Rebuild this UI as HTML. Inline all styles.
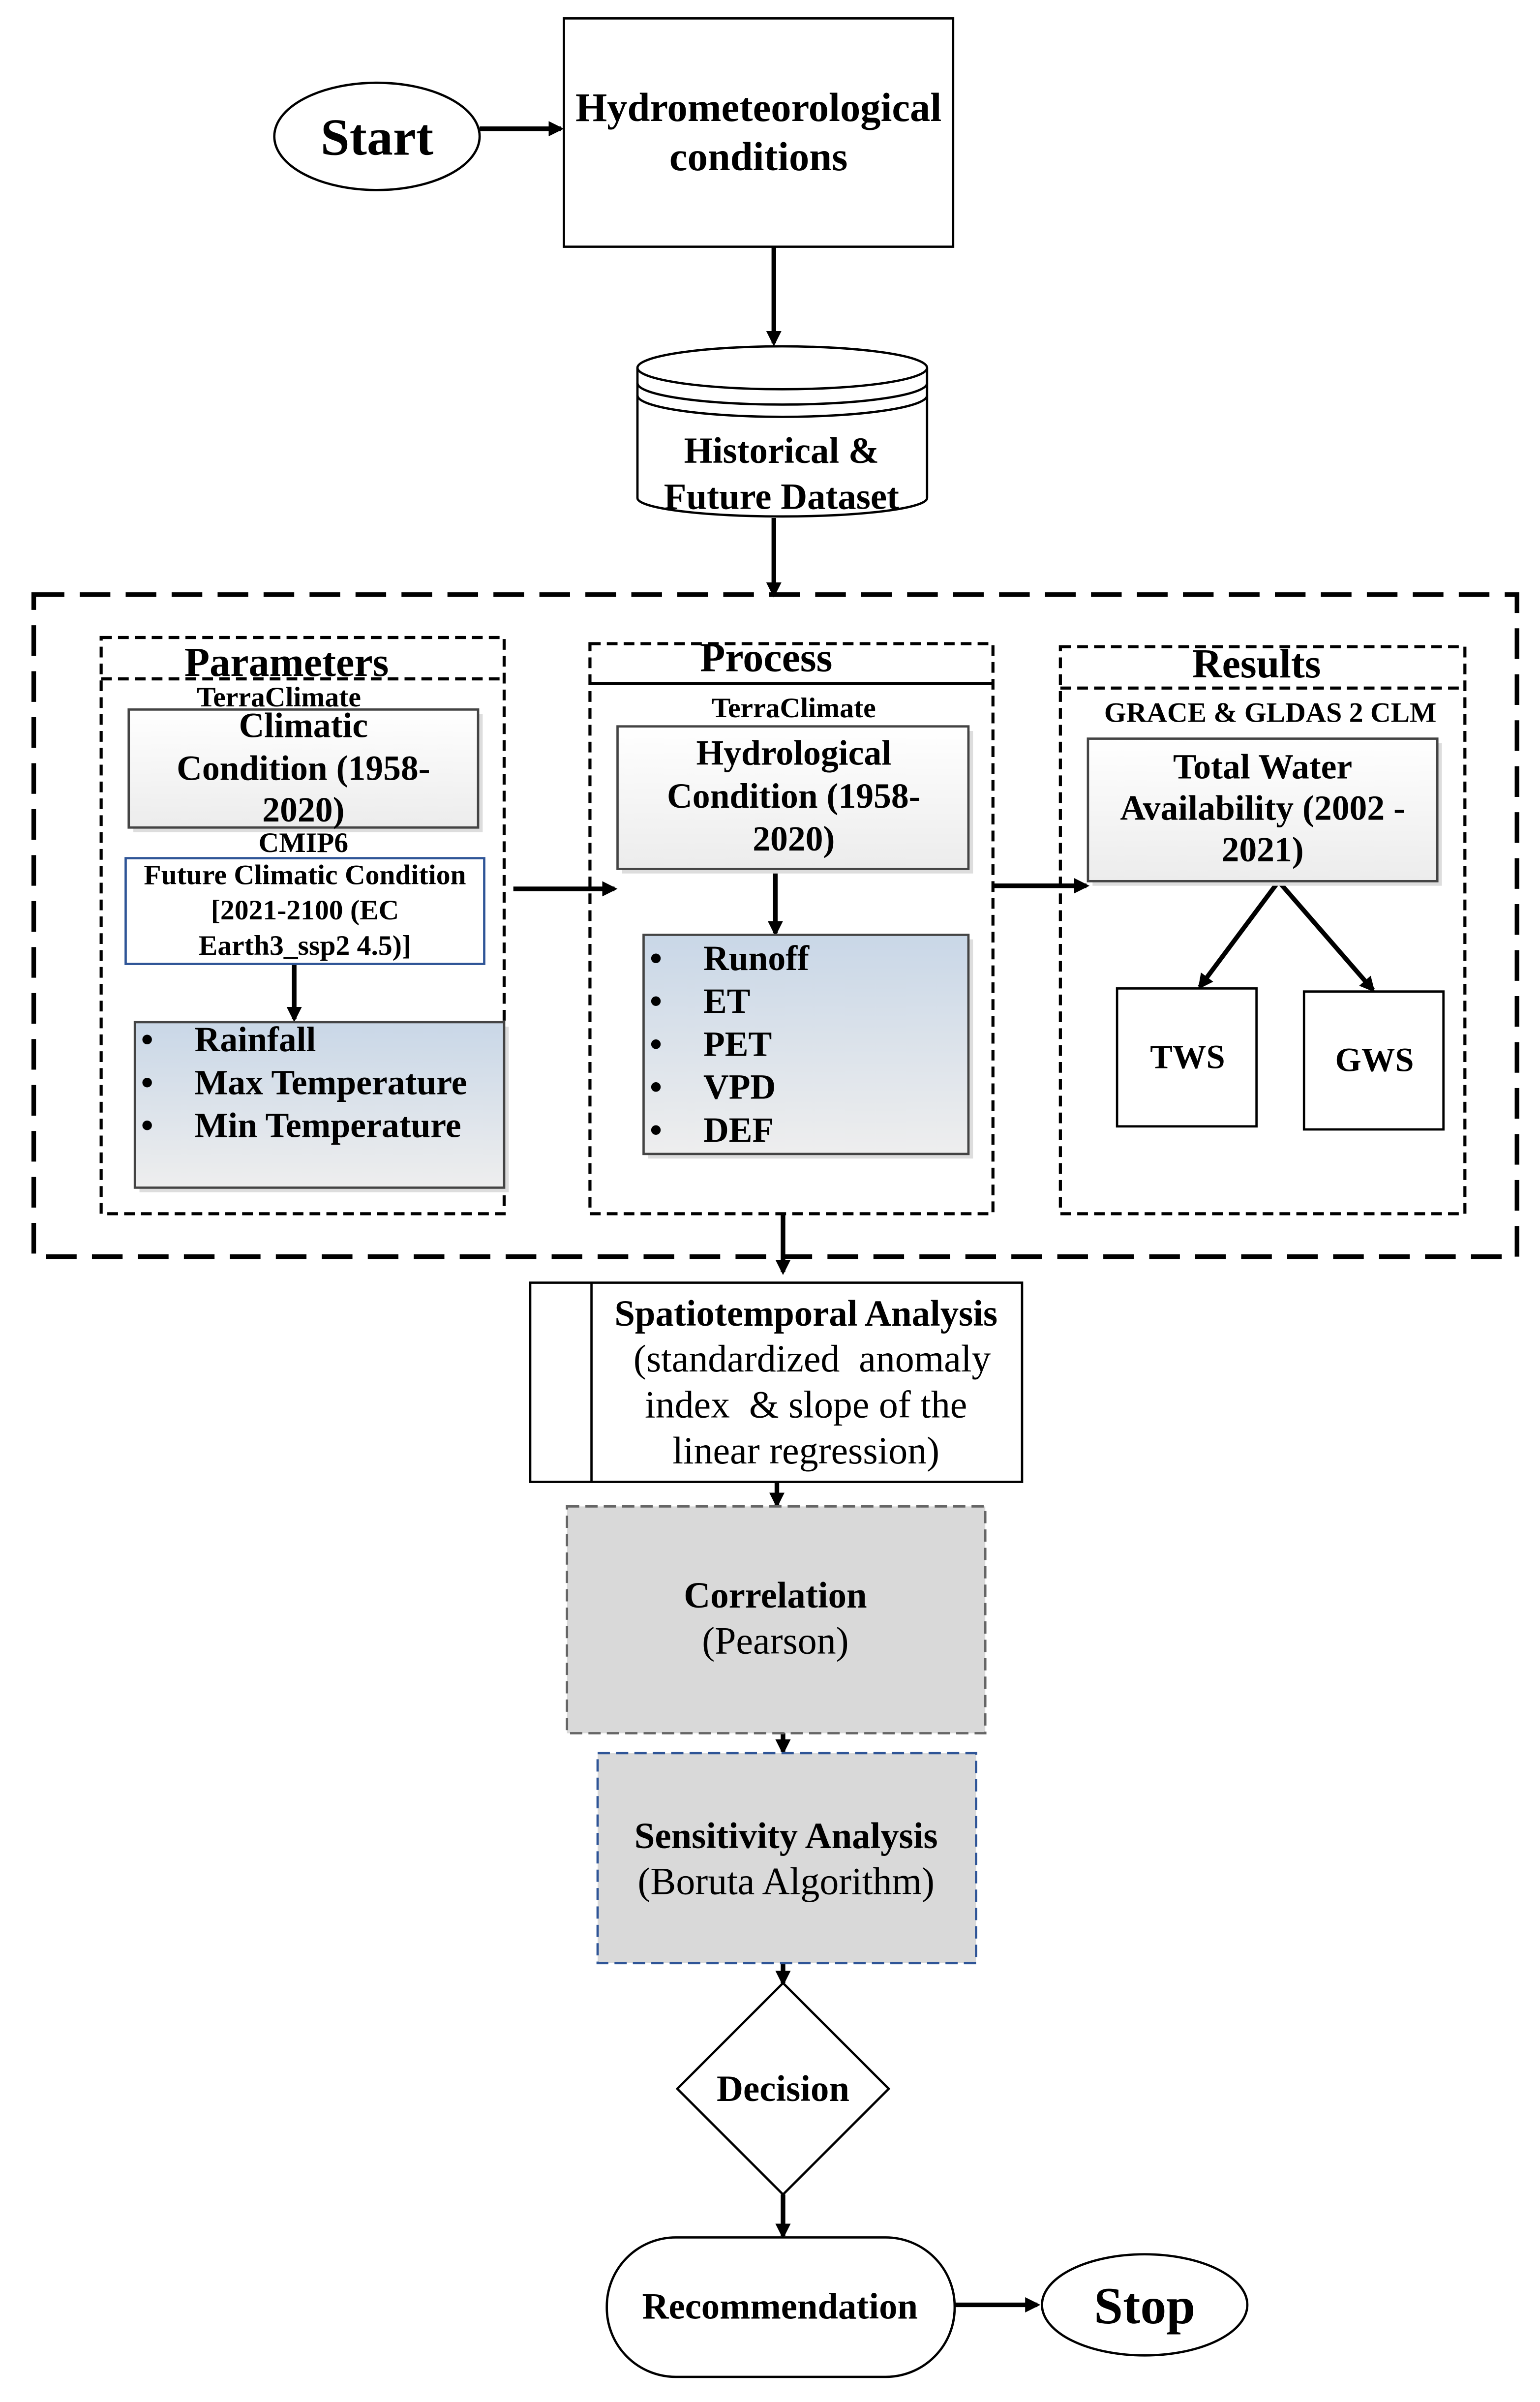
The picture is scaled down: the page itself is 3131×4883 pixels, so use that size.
<!DOCTYPE html>
<html><head><meta charset="utf-8"><style>html,body{margin:0;padding:0;background:#fff}svg{display:block}text{font-family:"Liberation Serif",serif;fill:#000}</style></head>
<body>
<svg width="3131" height="4883" viewBox="0 0 1005 1567.4" xmlns="http://www.w3.org/2000/svg">
<defs>
<marker id="a" markerWidth="10" markerHeight="10" refX="8" refY="5" orient="auto" markerUnits="userSpaceOnUse"><path d="M0,0 L10,5 L0,10 z" fill="#000"/></marker>
<linearGradient id="g1" x1="0" y1="0" x2="0" y2="1"><stop offset="0" stop-color="#ffffff"/><stop offset="1" stop-color="#ececec"/></linearGradient>
<linearGradient id="g2" x1="0" y1="0" x2="0" y2="1"><stop offset="0" stop-color="#c9d7e7"/><stop offset="1" stop-color="#eeeeee"/></linearGradient>
</defs>
<g stroke="#000" stroke-width="3" fill="none">
<line x1="313" y1="84" x2="366" y2="84" marker-end="url(#a)"/>
<line x1="505" y1="161" x2="505" y2="224" marker-end="url(#a)"/>
<line x1="505" y1="338" x2="505" y2="388" marker-end="url(#a)"/>
<line x1="192" y1="629" x2="192" y2="665" marker-end="url(#a)"/>
<line x1="335" y1="580" x2="401" y2="580" marker-end="url(#a)"/>
<line x1="506" y1="567" x2="506" y2="609" marker-end="url(#a)"/>
<line x1="648" y1="578" x2="709" y2="578" marker-end="url(#a)"/>
<line x1="833" y1="577" x2="783" y2="644" marker-end="url(#a)"/>
<line x1="836" y1="577" x2="896" y2="646" marker-end="url(#a)"/>
<line x1="511" y1="792" x2="511" y2="830" marker-end="url(#a)"/>
<line x1="507" y1="967" x2="507" y2="982" marker-end="url(#a)"/>
<line x1="511" y1="1131" x2="511" y2="1143" marker-end="url(#a)"/>
<line x1="511" y1="1281" x2="511" y2="1294" marker-end="url(#a)"/>
<line x1="511" y1="1432" x2="511" y2="1459" marker-end="url(#a)"/>
<line x1="623" y1="1504" x2="677" y2="1504" marker-end="url(#a)"/>
</g>
<ellipse cx="246" cy="89" rx="67" ry="35" fill="#fff" stroke="#000" stroke-width="1.5"/>
<text x="246" y="101" font-size="34" font-weight="bold" text-anchor="middle">Start</text>
<rect x="368" y="12" width="254" height="149" fill="#fff" stroke="#000" stroke-width="1.5"/>
<text x="495" y="79" font-size="26.5" font-weight="bold" text-anchor="middle">Hydrometeorological</text>
<text x="495" y="111" font-size="26.5" font-weight="bold" text-anchor="middle">conditions</text>
<path d="M416,240 A94.5,14 0 0 1 605,240 L605,325 A94.5,12 0 0 1 416,325 Z" fill="#fff" stroke="#000" stroke-width="1.5"/>
<path d="M416,240 A94.5,14 0 0 0 605,240 M416,250 A94.5,14 0 0 0 605,250 M416,258 A94.5,14 0 0 0 605,258" fill="none" stroke="#000" stroke-width="1.5"/>
<text x="510" y="302" font-size="24" font-weight="bold" text-anchor="middle">Historical &amp;</text>
<text x="510" y="332" font-size="24" font-weight="bold" text-anchor="middle">Future Dataset</text>
<rect x="22" y="388" width="968" height="432" fill="none" stroke="#000" stroke-width="3" stroke-dasharray="20 10"/>
<!-- Parameters -->
<rect x="66" y="416" width="263" height="376" fill="none" stroke="#000" stroke-width="2" stroke-dasharray="7 4"/>
<line x1="66" y1="443" x2="329" y2="443" stroke="#000" stroke-width="2" stroke-dasharray="7 4"/>
<text x="187" y="441" font-size="27" font-weight="bold" text-anchor="middle">Parameters</text>
<text x="182" y="461" font-size="18.5" font-weight="bold" text-anchor="middle">TerraClimate</text>
<rect x="87" y="466" width="228" height="77" fill="#ddd"/>
<rect x="84" y="463" width="228" height="77" fill="url(#g1)" stroke="#444" stroke-width="1.5"/>
<text x="198" y="481" font-size="23" font-weight="bold" text-anchor="middle">Climatic</text>
<text x="198" y="509" font-size="23" font-weight="bold" text-anchor="middle">Condition (1958-</text>
<text x="198" y="536" font-size="23" font-weight="bold" text-anchor="middle">2020)</text>
<text x="198" y="556" font-size="18.5" font-weight="bold" text-anchor="middle">CMIP6</text>
<rect x="82" y="560" width="234" height="69" fill="#fff" stroke="#2f5597" stroke-width="1.5"/>
<text x="199" y="577" font-size="18.5" font-weight="bold" text-anchor="middle">Future Climatic Condition</text>
<text x="199" y="600" font-size="18.5" font-weight="bold" text-anchor="middle">[2021-2100 (EC</text>
<text x="199" y="623" font-size="18.5" font-weight="bold" text-anchor="middle">Earth3_ssp2 4.5)]</text>
<rect x="91" y="670" width="241" height="108" fill="#ddd"/>
<rect x="88" y="667" width="241" height="108" fill="url(#g2)" stroke="#444" stroke-width="1.5"/>
<g font-size="23" font-weight="bold">
<text x="92" y="686">•</text><text x="127" y="686">Rainfall</text>
<text x="92" y="714">•</text><text x="127" y="714">Max Temperature</text>
<text x="92" y="742">•</text><text x="127" y="742">Min Temperature</text>
</g>
<!-- Process -->
<rect x="385" y="420" width="263" height="372" fill="none" stroke="#000" stroke-width="2" stroke-dasharray="7 4"/>
<line x1="385" y1="446" x2="648" y2="446" stroke="#000" stroke-width="2"/>
<text x="500" y="438" font-size="27" font-weight="bold" text-anchor="middle">Process</text>
<text x="518" y="468" font-size="18.5" font-weight="bold" text-anchor="middle">TerraClimate</text>
<rect x="406" y="477" width="229" height="93" fill="#ddd"/>
<rect x="403" y="474" width="229" height="93" fill="url(#g1)" stroke="#444" stroke-width="1.5"/>
<text x="518" y="499" font-size="23" font-weight="bold" text-anchor="middle">Hydrological</text>
<text x="518" y="527" font-size="23" font-weight="bold" text-anchor="middle">Condition (1958-</text>
<text x="518" y="555" font-size="23" font-weight="bold" text-anchor="middle">2020)</text>
<rect x="423" y="613" width="212" height="143" fill="#ddd"/>
<rect x="420" y="610" width="212" height="143" fill="url(#g2)" stroke="#444" stroke-width="1.5"/>
<g font-size="23" font-weight="bold">
<text x="424" y="633">•</text><text x="459" y="633">Runoff</text>
<text x="424" y="661">•</text><text x="459" y="661">ET</text>
<text x="424" y="689">•</text><text x="459" y="689">PET</text>
<text x="424" y="717">•</text><text x="459" y="717">VPD</text>
<text x="424" y="745">•</text><text x="459" y="745">DEF</text>
</g>
<!-- Results -->
<rect x="692" y="422" width="264" height="370" fill="none" stroke="#000" stroke-width="2" stroke-dasharray="7 4"/>
<line x1="692" y1="449" x2="956" y2="449" stroke="#000" stroke-width="2" stroke-dasharray="7 4"/>
<text x="820" y="442" font-size="27" font-weight="bold" text-anchor="middle">Results</text>
<text x="829" y="471" font-size="18.5" font-weight="bold" text-anchor="middle">GRACE &amp; GLDAS 2 CLM</text>
<rect x="713" y="485" width="228" height="93" fill="#ddd"/>
<rect x="710" y="482" width="228" height="93" fill="url(#g1)" stroke="#444" stroke-width="1.5"/>
<text x="824" y="508" font-size="23" font-weight="bold" text-anchor="middle">Total Water</text>
<text x="824" y="535" font-size="23" font-weight="bold" text-anchor="middle">Availability (2002 -</text>
<text x="824" y="562" font-size="23" font-weight="bold" text-anchor="middle">2021)</text>
<rect x="729" y="645" width="91" height="90" fill="#fff" stroke="#000" stroke-width="1.5"/>
<text x="775" y="697" font-size="22" font-weight="bold" text-anchor="middle">TWS</text>
<rect x="851" y="647" width="91" height="90" fill="#fff" stroke="#000" stroke-width="1.5"/>
<text x="897" y="699" font-size="22" font-weight="bold" text-anchor="middle">GWS</text>
<!-- Spatiotemporal -->
<rect x="346" y="837" width="321" height="130" fill="#fff" stroke="#000" stroke-width="1.5"/>
<line x1="386" y1="837" x2="386" y2="967" stroke="#000" stroke-width="1.5"/>
<text x="526" y="865" font-size="24" font-weight="bold" text-anchor="middle">Spatiotemporal Analysis</text>
<text x="530" y="895" font-size="25" text-anchor="middle" xml:space="preserve">(standardized  anomaly</text>
<text x="526" y="925" font-size="25" text-anchor="middle" xml:space="preserve">index  &amp; slope of the</text>
<text x="526" y="955" font-size="25" text-anchor="middle">linear regression)</text>
<rect x="370" y="983" width="273" height="148" fill="#d9d9d9" stroke="#666" stroke-width="1.5" stroke-dasharray="8 4"/>
<text x="506" y="1049" font-size="24" font-weight="bold" text-anchor="middle">Correlation</text>
<text x="506" y="1079" font-size="25" text-anchor="middle">(Pearson)</text>
<rect x="390" y="1144" width="247" height="137" fill="#d9d9d9" stroke="#2f5597" stroke-width="1.5" stroke-dasharray="8 4"/>
<text x="513" y="1206" font-size="24" font-weight="bold" text-anchor="middle">Sensitivity Analysis</text>
<text x="513" y="1236" font-size="25" text-anchor="middle">(Boruta Algorithm)</text>
<path d="M511,1294 L580,1363 L511,1432 L442,1363 Z" fill="#fff" stroke="#000" stroke-width="1.5"/>
<text x="511" y="1371" font-size="24" font-weight="bold" text-anchor="middle">Decision</text>
<rect x="396" y="1460" width="227" height="91" rx="45" fill="#fff" stroke="#000" stroke-width="1.5"/>
<text x="509" y="1513" font-size="24" font-weight="bold" text-anchor="middle">Recommendation</text>
<ellipse cx="747" cy="1504" rx="67" ry="33" fill="#fff" stroke="#000" stroke-width="1.5"/>
<text x="747" y="1516" font-size="34" font-weight="bold" text-anchor="middle">Stop</text>
</svg>
</body></html>
